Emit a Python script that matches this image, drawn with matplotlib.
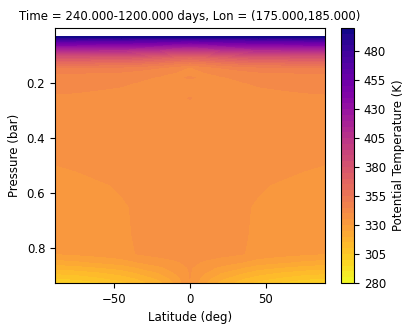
import numpy as np
import matplotlib
matplotlib.use('Agg')
import matplotlib.pyplot as plt

# latitude grid (deg) and pressure levels (bar)
lat = [-89, -75, -60, -45, -35, -20, -10, 0, 10, 20, 35, 45, 60, 75, 89]
pres = [0.0, 0.033, 0.044, 0.055, 0.08, 0.105, 0.127, 0.145, 0.17, 0.18,
        0.2, 0.24, 0.255, 0.3, 0.45, 0.52, 0.57, 0.65, 0.75, 0.82, 0.85,
        0.87, 0.89, 0.91, 0.927]

# potential temperature (K), one row per pressure level
theta = [
    [600, 600, 600, 600, 600, 600, 600, 600, 600, 600, 600, 600, 600, 600, 600],
    [497, 498, 496, 499, 498, 497, 498, 496, 498, 497, 498, 499, 496, 498, 497],
    [472, 471, 470, 470, 469, 468, 467, 466, 467, 468, 469, 470, 470, 471, 472],
    [452, 451, 450, 450, 449, 447, 445, 444, 445, 447, 449, 450, 450, 451, 452],
    [411, 411, 410, 410, 408, 405, 402, 400, 402, 405, 408, 410, 410, 411, 411],
    [381, 381, 380, 380, 378, 374, 370, 368, 370, 374, 378, 380, 380, 381, 381],
    [361, 361, 360, 360, 358, 355, 352, 350, 352, 355, 358, 360, 360, 361, 361],
    [349, 349, 348, 348, 347, 345, 342, 339.5, 342, 345, 347, 348, 348, 349, 349],
    [344, 344, 343.5, 343, 342, 340.5, 339, 338.5, 339, 340.5, 342, 343, 343.5, 344, 344],
    [343, 343, 342.5, 342, 341, 339.5, 339, 340.6, 339, 339.5, 341, 342, 342.5, 343, 343],
    [341.5, 341.5, 341, 340.5, 339.8, 338.5, 338, 338, 338, 338.5, 339.8, 340.5, 341, 341.5, 341.5],
    [340, 339.8, 339.4, 339, 338.5, 338, 338, 338, 338, 338, 338.5, 339, 339.4, 339.8, 340],
    [339.5, 339.3, 339, 338.5, 338, 338, 338, 340.3, 338, 338, 338, 338.5, 339, 339.3, 339.5],
    [338, 338, 338, 338, 337.5, 337.5, 337.5, 337.5, 337.5, 337.5, 337.5, 338, 338, 338, 338],
    [336, 336, 337, 337, 337, 337, 337, 337, 337, 337, 337, 337, 337, 336, 336],
    [334.5, 335, 336, 337, 337, 337, 337, 338, 337, 337, 337, 337, 336, 335, 334.5],
    [333, 334, 334.5, 335.5, 336.5, 337, 337, 338, 337, 337, 336.5, 335.5, 334.5, 334, 333],
    [332, 333, 333.5, 334.5, 335.5, 337, 337, 338, 337, 337, 335.5, 334.5, 333.5, 333, 332],
    [331, 332, 333, 334, 335.5, 337, 337, 338, 337, 337, 335.5, 334, 333, 332, 331],
    [330, 331, 332, 333, 335.2, 336.5, 337, 337.5, 337, 336.5, 335.2, 333, 332, 331, 330],
    [323, 324, 326, 328, 330, 333, 334.5, 336, 334.5, 333, 330, 328, 326, 324, 323],
    [317, 318, 320, 322, 325, 329, 332, 335.5, 332, 329, 325, 322, 320, 318, 317],
    [311, 312, 314, 317, 320, 325, 330, 335.2, 330, 325, 320, 317, 314, 312, 311],
    [305, 306, 309, 312, 315, 321, 327, 335, 327, 321, 315, 312, 309, 306, 305],
    [300, 301, 304, 308, 312, 318, 325, 335, 325, 318, 312, 308, 304, 301, 300],
]

levels = np.arange(280, 505, 5)

fig = plt.figure(figsize=(4.15, 3.32), dpi=100)
ax = fig.add_axes([0.1325, 0.1476, 0.6505, 0.7681])
cax = fig.add_axes([0.8217, 0.1476, 0.0313, 0.7681])

cs = ax.contourf(lat, pres, theta, levels=levels, cmap='plasma_r')
ax.set_ylim(0.927, 0.0)
ax.set_xlim(-89, 89)
ax.set_yticks([0.2, 0.4, 0.6, 0.8])
ax.set_xticks([-50, 0, 50])
ax.tick_params(labelsize=8.5)
ax.set_xlabel('Latitude (deg)', fontsize=8.5)
ax.set_ylabel('Pressure (bar)', fontsize=8.5)
ax.set_title('Time = 240.000-1200.000 days, Lon = (175.000,185.000)', fontsize=8.5)

cb = fig.colorbar(cs, cax=cax, ticks=levels[::5])
cb.ax.tick_params(labelsize=8.5)
cb.set_label('Potential Temperature (K)', fontsize=8.5)

fig.savefig('out.png', dpi=100)
